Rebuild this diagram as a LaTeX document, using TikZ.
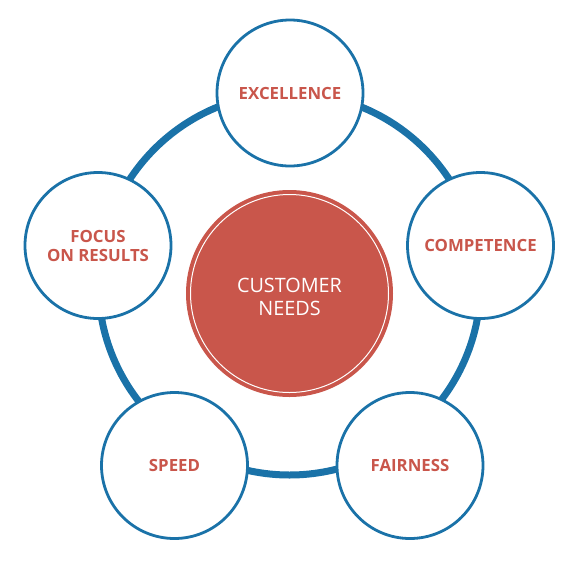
\documentclass[tikz,border=0pt]{standalone}
\usepackage{fontspec}
\setmainfont{Open Sans}
\usetikzlibrary{positioning}
\definecolor{ringblue}{HTML}{1A72A8}
\definecolor{needred}{HTML}{C9564B}

\begin{document}
\begin{tikzpicture}[x=1pt,y=-1pt,
	value/.style={circle,draw=ringblue,line width=2.8pt,fill=white,minimum size=146pt,inner sep=0pt,
		text=needred,font=\bfseries\fontsize{16.8}{19}\selectfont,align=center},
	hub/.style={circle,fill=needred,minimum size=207pt,inner sep=0pt},
	hubtext/.style={text=white,font=\fontsize{19.8}{23}\selectfont,align=center}]
	\useasboundingbox (0,0) rectangle (578,560);
	
	% ring
	\coordinate (O) at (289.5,284);
	\draw[ringblue,line width=7pt] (O) circle (191pt);
	
	% customer needs
	\node[hub] (needs) at (289.5,293.5) {};
	\draw[white,line width=1pt] (needs.center) circle (99pt);
	\node[hubtext] (needslabel) at (289.5,297) {CUSTOMER\\NEEDS};
	
	% values
	\node[value] (excellence) at (290,93) {EXCELLENCE};
	\node[value] (competence) at (480.5,245.5) {COMPETENCE};
	\node[value] (fairness) at (410,465.5) {FAIRNESS};
	\node[value] (speed) at (174.5,465.5) {SPEED};
	\node[value] (focus) at (98,245.5) {FOCUS\\ON RESULTS};
\end{tikzpicture}
\end{document}
